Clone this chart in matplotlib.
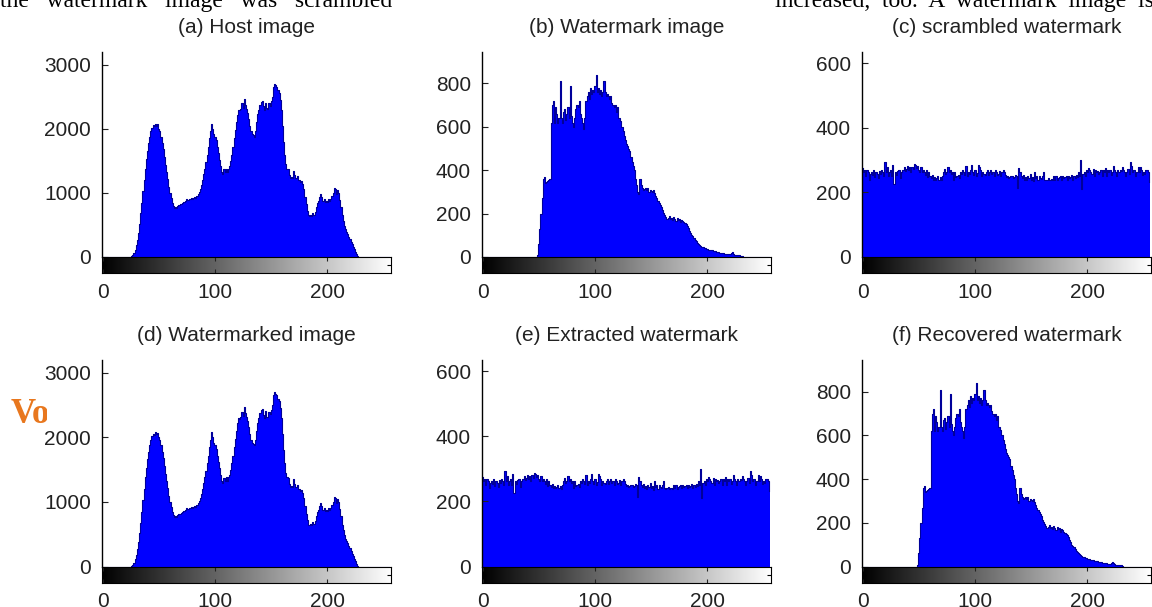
import numpy as np
import matplotlib
matplotlib.use('Agg')
import matplotlib.pyplot as plt
from matplotlib.transforms import Bbox, TransformedBbox

plt.rcParams['font.family'] = ['Liberation Sans', 'DejaVu Sans']

gray_levels = np.arange(256)

# histogram of the host image (counts per gray level)
host_counts = [
    0, 0, 0, 0, 0, 0, 0, 0, 0, 0, 0, 0, 0, 0, 0, 0,
    0, 0, 0, 0, 0, 0, 0, 0, 0, 0, 10, 30, 60, 110, 180, 270,
    380, 520, 680, 850, 1030, 1200, 1380, 1530, 1660, 1780, 1880, 1960, 2020, 2060, 2040, 2080,
    2050, 2070, 2000, 1960, 1880, 1780, 1680, 1560, 1440, 1320, 1210, 1100, 1000, 920, 850, 800,
    770, 780, 760, 800, 810, 820, 830, 850, 860, 860, 880, 900, 890, 910, 900, 920,
    910, 920, 930, 920, 950, 980, 1010, 1060, 1120, 1200, 1290, 1380, 1480, 1600, 1720, 1850,
    1960, 2080, 2000, 1920, 1880, 1820, 1720, 1620, 1520, 1420, 1330, 1300, 1370, 1330, 1380, 1320,
    1380, 1420, 1500, 1600, 1720, 1850, 1980, 2100, 2220, 2300, 2290, 2310, 2400, 2330, 2470, 2380,
    2310, 2250, 2160, 2050, 1960, 1920, 1900, 1880, 1960, 2100, 2230, 2300, 2380, 2420, 2440, 2350,
    2300, 2410, 2320, 2310, 2400, 2360, 2430, 2500, 2650, 2700, 2680, 2660, 2600, 2560, 2450, 2300,
    2050, 1800, 1600, 1450, 1380, 1370, 1280, 1230, 1250, 1230, 1350, 1280, 1230, 1260, 1200, 1200,
    1170, 1180, 1140, 1060, 940, 820, 720, 650, 640, 660, 640, 690, 660, 700, 780, 840,
    880, 930, 990, 930, 880, 900, 860, 880, 860, 900, 880, 900, 950, 1000, 1080, 1060,
    980, 1040, 1000, 890, 780, 650, 560, 490, 430, 390, 360, 320, 280, 240, 200, 160,
    120, 80, 40, 10, 0, 0, 0, 0, 0, 0, 0, 0, 0, 0, 0, 0,
    0, 0, 0, 0, 0, 0, 0, 0, 0, 0, 0, 0, 0, 0, 0, 0,
]

# histogram of the watermark image
watermark_counts = [
    0, 0, 0, 0, 0, 0, 0, 0, 0, 0, 0, 0, 0, 0, 0, 0,
    0, 0, 0, 0, 0, 0, 0, 0, 0, 0, 0, 0, 0, 0, 0, 0,
    0, 0, 0, 0, 0, 0, 0, 0, 0, 0, 0, 0, 0, 0, 0, 0,
    0, 8, 60, 130, 200, 270, 360, 370, 340, 345, 350, 355, 360, 620, 700, 720,
    620, 690, 660, 620, 640, 810, 640, 620, 670, 680, 630, 660, 690, 640, 790, 650,
    620, 600, 640, 680, 700, 690, 720, 660, 640, 620, 590, 640, 720, 740, 760, 730,
    780, 750, 770, 760, 790, 840, 760, 780, 750, 770, 740, 760, 810, 760, 740, 750,
    740, 730, 740, 710, 700, 690, 700, 670, 690, 640, 640, 625, 600, 580, 560, 540,
    520, 510, 500, 490, 460, 440, 420, 400, 360, 330, 300, 290, 360, 330, 320, 310,
    315, 320, 310, 320, 300, 310, 305, 300, 310, 295, 280, 270, 260, 250, 240, 230,
    215, 205, 195, 185, 175, 180, 190, 175, 180, 170, 185, 175, 165, 180, 170, 175,
    160, 170, 165, 160, 155, 150, 145, 135, 120, 110, 100, 95, 88, 80, 72, 66,
    60, 56, 52, 48, 45, 42, 40, 38, 36, 34, 33, 31, 30, 29, 27, 26,
    25, 23, 22, 20, 19, 18, 17, 16, 15, 14, 13, 12, 12, 18, 22, 14,
    10, 9, 8, 8, 7, 6, 5, 3, 0, 0, 0, 0, 0, 0, 0, 0,
    0, 0, 0, 0, 0, 0, 0, 0, 0, 0, 0, 0, 0, 0, 0, 0,
]

# histogram of the scrambled watermark
scrambled_counts = [
    275, 262, 270, 250, 268, 262, 240, 258, 262, 255, 270, 248, 262, 258, 245, 265,
    258, 270, 262, 250, 295, 262, 278, 250, 262, 268, 250, 285, 225, 262, 255, 265,
    268, 270, 245, 262, 270, 278, 265, 272, 282, 268, 278, 262, 280, 272, 288, 285,
    275, 282, 270, 262, 278, 262, 270, 262, 255, 268, 248, 262, 250, 245, 255, 240,
    248, 240, 245, 252, 240, 248, 238, 250, 262, 272, 258, 262, 278, 262, 270, 258,
    262, 240, 262, 248, 250, 255, 245, 262, 258, 268, 262, 255, 282, 250, 262, 258,
    268, 285, 262, 255, 268, 250, 260, 285, 278, 268, 250, 262, 258, 255, 262, 270,
    255, 262, 268, 258, 262, 250, 268, 262, 255, 258, 265, 250, 262, 270, 262, 255,
    248, 250, 245, 248, 250, 252, 245, 248, 255, 250, 215, 275, 262, 250, 245, 255,
    240, 248, 238, 252, 245, 258, 240, 248, 235, 262, 245, 250, 238, 252, 245, 242,
    250, 262, 240, 238, 240, 245, 238, 240, 242, 238, 250, 240, 252, 238, 245, 248,
    250, 240, 252, 245, 248, 250, 240, 252, 245, 248, 255, 240, 250, 245, 255, 248,
    262, 250, 300, 212, 258, 262, 250, 268, 262, 275, 268, 262, 258, 272, 250, 268,
    262, 265, 258, 262, 270, 250, 268, 262, 275, 250, 270, 262, 268, 255, 262, 282,
    270, 262, 250, 268, 262, 270, 265, 278, 268, 262, 250, 262, 272, 258, 295, 282,
    262, 270, 268, 250, 262, 280, 262, 278, 270, 255, 262, 258, 268, 270, 262, 232,
]

# the watermarked / extracted / recovered histograms look the same as their sources
watermarked_counts = host_counts
extracted_counts = scrambled_counts
recovered_counts = watermark_counts

titles = ['(a) Host image', '(b) Watermark image', '(c) scrambled watermark',
          '(d) Watermarked image', '(e) Extracted watermark', '(f) Recovered watermark']
series = [host_counts, watermark_counts, scrambled_counts,
          watermarked_counts, extracted_counts, recovered_counts]
y_tops = [3200, 945, 635, 3200, 635, 945]
y_ticks = [[0, 1000, 2000, 3000], [0, 200, 400, 600, 800], [0, 200, 400, 600],
           [0, 1000, 2000, 3000], [0, 200, 400, 600], [0, 200, 400, 600, 800]]
x_ticks = [0, 100, 200]

W, H = 1152, 607
fig = plt.figure(figsize=(W / 100, H / 100), dpi=100)

col_left = [102, 482, 862]
row_zero = [257, 566.5]    # pixel row of count 0
row_top = [52, 360]
cb_h = 16
ax_w = 289

for i in range(6):
    r, c = divmod(i, 3)
    left = col_left[c] / W
    w = ax_w / W
    hb = 1 - row_zero[r] / H
    hh = (row_zero[r] - row_top[r]) / H
    ax = fig.add_axes([left, hb, w, hh])
    counts = np.array(series[i])
    ax.bar(gray_levels, counts, width=1.0, color='#0000ff', linewidth=0)
    ax.step(gray_levels, counts, where='mid', color='#00009a', lw=0.8)
    ax.set_xlim(-0.5, 256.5)
    ax.set_ylim(0, y_tops[i])
    for s in ['top', 'right', 'bottom']:
        ax.spines[s].set_visible(False)
    ax.spines['left'].set_linewidth(1.0)
    ax.set_xticks([])
    ax.set_yticks(y_ticks[i])
    ax.tick_params(axis='y', direction='in', length=4, width=0.8,
                   labelsize=15, pad=8, colors='#222222')
    ax.set_title(titles[i], fontsize=15, pad=14, color='#222222')

    cb = fig.add_axes([left, 1 - (row_zero[r] + cb_h) / H, w, cb_h / H])
    cb.imshow(gray_levels[None, :], cmap='gray', aspect='auto',
              extent=(-0.5, 256.5, 0, 1), vmin=0, vmax=255)
    cb.set_xlim(-0.5, 256.5)
    cb.set_ylim(0, 1)
    cb.set_xticks(x_ticks)
    cb.tick_params(axis='x', direction='in', top=True, length=3,
                   labelsize=15, pad=7, colors='#222222')
    cb.set_yticks([0.5])
    cb.set_yticklabels([])
    cb.tick_params(axis='y', direction='in', left=True, right=True, length=3)

# fragments of the surrounding page, cut off by the crop
serif = ['Liberation Serif', 'DejaVu Serif']
fig.text(0, 1 - 7 / H, 'the   watermark   image   was   scrambled', fontsize=17,
         family=serif, va='baseline', ha='left')
fig.text(1.002, 1 - 7 / H, 'increased,  too.  A  watermark  image  is', fontsize=17,
         family=serif, va='baseline', ha='right')
vo = fig.text(11 / W, 1 - 423 / H, 'Vo', fontsize=25, fontweight='bold',
              color='#e8771e', family=serif, va='baseline')
vo.set_clip_box(TransformedBbox(Bbox([[0, 0], [47 / W, 1]]), fig.transFigure))
vo.set_clip_on(True)

fig.savefig('out.png', dpi=100)
